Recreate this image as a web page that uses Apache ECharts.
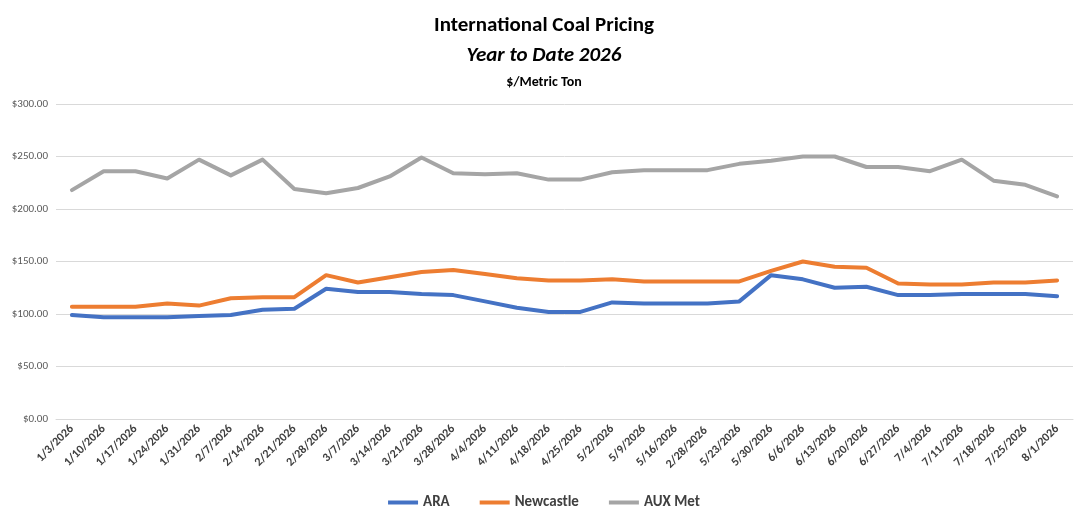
<!DOCTYPE html>
<html>
<head>
<meta charset="utf-8">
<script src="https://cdn.jsdelivr.net/npm/echarts@6/dist/echarts.min.js"></script>
<style>
html,body{margin:0;padding:0;background:#fff;}
#main{width:1088px;height:527px;}
</style>
</head>
<body>
<div id="main"></div>
<script>
var weeks = ['1/3/2026','1/10/2026','1/17/2026','1/24/2026','1/31/2026','2/7/2026','2/14/2026','2/21/2026',
    '2/28/2026','3/7/2026','3/14/2026','3/21/2026','3/28/2026','4/4/2026','4/11/2026','4/18/2026','4/25/2026',
    '5/2/2026','5/9/2026','5/16/2026','2/28/2026 ','5/23/2026','5/30/2026','6/6/2026','6/13/2026','6/20/2026',
    '6/27/2026','7/4/2026','7/11/2026','7/18/2026','7/25/2026','8/1/2026'];
var ara = [99,97,97,97,98,99,104,105,124,121,121,119,118,112,106,102,102,111,110,110,110,112,137,133,125,126,118,118,119,119,119,117];
var newcastle = [107,107,107,110,108,115,116,116,137,130,135,140,142,138,134,132,132,133,131,131,131,131,141,150,145,144,129,128,128,130,130,132];
var auxMet = [218,236,236,229,247,232,247,219,215,220,231,249,234,233,234,228,228,235,237,237,237,243,246,250,250,240,240,236,247,227,223,212];

var myChart = echarts.init(document.getElementById('main'));
var font = 'Calibri, Carlito, "Liberation Sans", Arial, sans-serif';
function line(name, data, color){
    return {name:name, type:'line', data:data, symbol:'none',
        lineStyle:{color:color, width:4, cap:'round', join:'round'}, itemStyle:{color:color}};
}
var option = {
    animation:false,
    title:[
        {text:'International Coal Pricing', left:'center', top:10, textStyle:{fontFamily:font, fontSize:21, fontWeight:'bold', color:'#000'}},
        {text:'Year to Date 2026', left:'center', top:40, textStyle:{fontFamily:font, fontSize:21, fontWeight:'bold', fontStyle:'italic', color:'#000'}},
        {text:'$/Metric Ton', left:'center', top:70, textStyle:{fontFamily:font, fontSize:14, fontWeight:'bold', color:'#000'}}
    ],
    legend:{bottom:12, left:'center', itemWidth:30, itemHeight:4, itemGap:30, icon:'rect',
        textStyle:{fontFamily:font, fontSize:15, fontWeight:'bold', color:'#404040'},
        data:['ARA','Newcastle','AUX Met']},
    grid:{left:56, right:15, top:104, bottom:108, containLabel:false},
    xAxis:{type:'category', data:weeks, boundaryGap:true,
        axisLine:{lineStyle:{color:'#d9d9d9'}}, axisTick:{show:false},
        axisLabel:{rotate:45, interval:0, fontFamily:font, fontSize:12, fontWeight:'bold', color:'#404040', margin:8}},
    yAxis:{type:'value', min:0, max:300, interval:50,
        axisLine:{show:false}, axisTick:{show:false},
        splitLine:{lineStyle:{color:'#d9d9d9'}},
        axisLabel:{formatter:function(v){return '$'+v.toFixed(2);}, fontFamily:font, fontSize:11, color:'#595959'}},
    series:[line('ARA', ara, '#4472c4'), line('Newcastle', newcastle, '#ed7d31'), line('AUX Met', auxMet, '#a5a5a5')]
};
myChart.setOption(option);
</script>
</body>
</html>
